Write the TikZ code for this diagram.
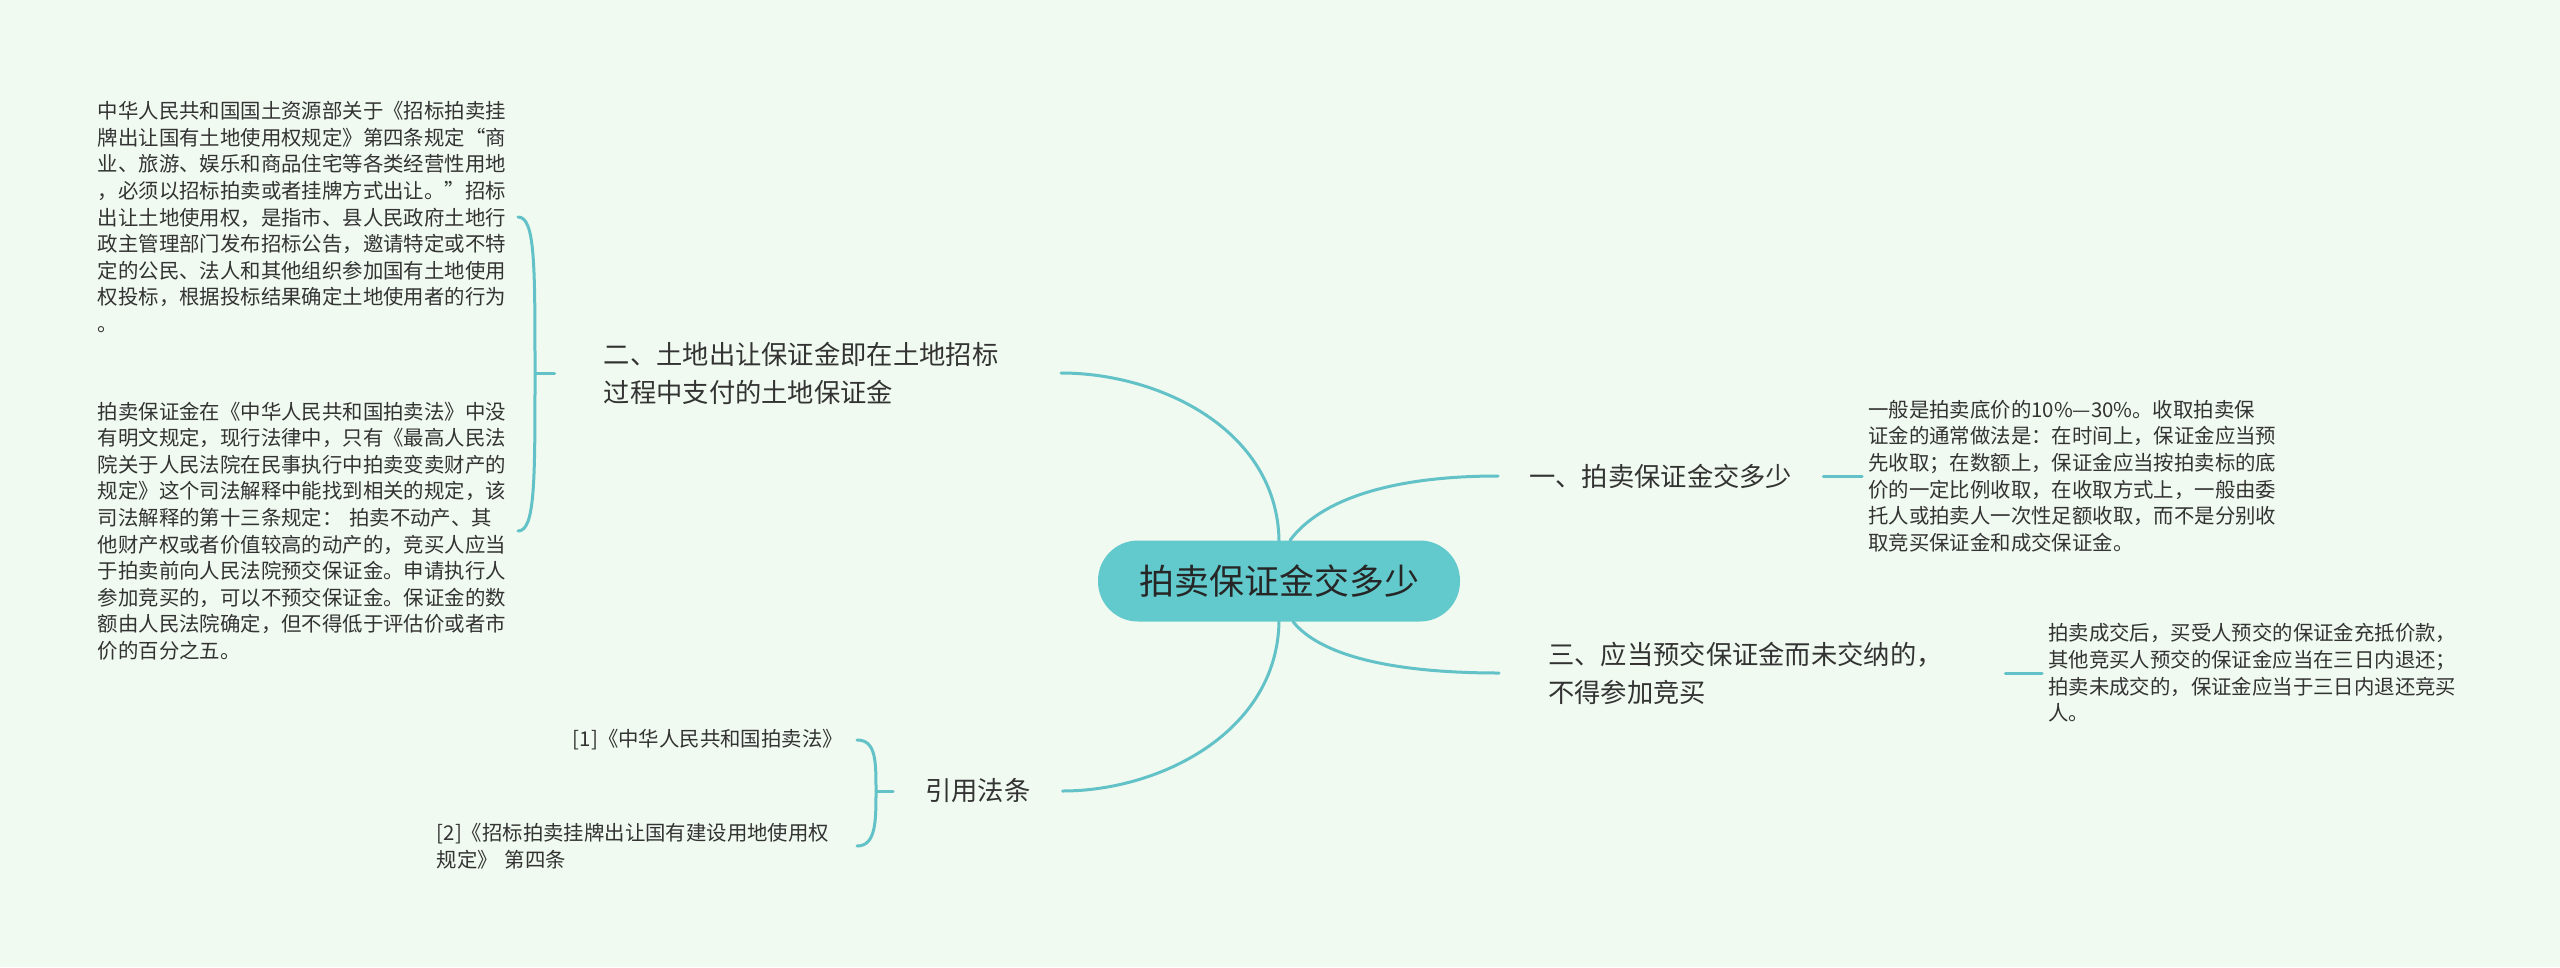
\documentclass[tikz,border=0pt]{standalone}
\usepackage{fontspec}
\setmainfont{Noto Sans CJK SC}
\usepackage{tikz}
\usetikzlibrary{positioning}
\definecolor{bgmint}{RGB}{240,250,240}
\definecolor{tealline}{RGB}{98,194,200}
\definecolor{tealfill}{RGB}{98,201,204}
\definecolor{inkgray}{RGB}{51,51,51}
\tikzset{
  hub/.style={fill=tealfill, rounded corners=40pt, minimum width=362pt,
    minimum height=81pt, inner sep=0pt, text=black!85,
    font=\fontsize{35}{42}\selectfont},
  branch/.style={inner xsep=49pt, inner ysep=4pt, text=inkgray, align=left,
    font=\fontsize{26.3}{38}\selectfont},
  leaf/.style={inner xsep=6pt, inner ysep=4pt, text=inkgray, align=left,
    font=\fontsize{20.4}{26.6}\selectfont},
  leafwide/.style={text width=414pt},
  link/.style={draw=tealline, line width=3pt, line cap=round},
}

\begin{document}
\begin{tikzpicture}[x=1pt, y=-1pt]
\path[use as bounding box, fill=bgmint] (0,0) rectangle (2560,967);
% centre topic
\node[hub] (hub) at (1279,581) {拍卖保证金交多少};
% main branches
\node[branch, text width=408pt, anchor=east] (b2) at (1061,373)
  {二、土地出让保证金即在土地招标\\过程中支付的土地保证金};
\node[branch, inner xsep=31pt, anchor=west] (b1) at (1498,476) {一、拍卖保证金交多少};
\node[branch, text width=408pt, anchor=west] (b3) at (1499,673)
  {三、应当预交保证金而未交纳的，\\不得参加竞买};
\node[branch, inner xsep=32pt, anchor=west] (b4) at (893,791) {引用法条};
% curves from the centre
\draw[link] (hub.north) .. controls (1277,430) and (1160,373) .. (b2.east);
\draw[link] ([xshift=11pt]hub.north) .. controls (1320,500) and (1390,476) .. (b1.west);
\draw[link] ([xshift=14pt]hub.south) .. controls (1320,655) and (1390,673) .. (b3.west);
\draw[link] (hub.south) .. controls (1277,732) and (1160,791) .. (b4.east);
% left leaves of branch two
\node[leaf, leafwide, anchor=east] (l1) at (518,217) {中华人民共和国国土资源部关于《招标拍卖挂\\
牌出让国有土地使用权规定》第四条规定“商\\
业、旅游、娱乐和商品住宅等各类经营性用地\\
，必须以招标拍卖或者挂牌方式出让。”招标\\
出让土地使用权，是指市、县人民政府土地行\\
政主管理部门发布招标公告，邀请特定或不特\\
定的公民、法人和其他组织参加国有土地使用\\
权投标，根据投标结果确定土地使用者的行为\\
。};
\node[leaf, leafwide, anchor=east] (l2) at (518,531) {拍卖保证金在《中华人民共和国拍卖法》中没\\
有明文规定，现行法律中，只有《最高人民法\\
院关于人民法院在民事执行中拍卖变卖财产的\\
规定》这个司法解释中能找到相关的规定，该\\
司法解释的第十三条规定： 拍卖不动产、其\\
他财产权或者价值较高的动产的，竞买人应当\\
于拍卖前向人民法院预交保证金。申请执行人\\
参加竞买的，可以不预交保证金。保证金的数\\
额由人民法院确定，但不得低于评估价或者市\\
价的百分之五。};
\coordinate (k2) at (535,373);
\draw[link] (l1.east) .. controls +(17,0) and +(0,-110) .. (k2)
  .. controls +(0,110) and +(17,0) .. (l2.east);
\draw[link] (k2) -- (b2.west);
% cited laws
\node[leaf, inner xsep=14pt, anchor=east] (c1) at (857,740) {[1]《中华人民共和国拍卖法》};
\node[leaf, leafwide, anchor=east] (c2) at (857,846)
  {[2]《招标拍卖挂牌出让国有建设用地使用权\\规定》 第四条};
\coordinate (k4) at (876,791);
\draw[link] (c1.east) .. controls +(19,0) and +(0,-30) .. (k4)
  .. controls +(0,30) and +(19,0) .. (c2.east);
\draw[link] (k4) -- (b4.west);
% right leaves
\node[leaf, leafwide, anchor=west] (r1) at (1862,476) {一般是拍卖底价的10\%—30\%。收取拍卖保\\
证金的通常做法是：在时间上，保证金应当预\\
先收取；在数额上，保证金应当按拍卖标的底\\
价的一定比例收取，在收取方式上，一般由委\\
托人或拍卖人一次性足额收取，而不是分别收\\
取竞买保证金和成交保证金。};
\draw[link] (b1.east) -- (r1.west);
\node[leaf, leafwide, anchor=west] (r3) at (2042,673) {拍卖成交后，买受人预交的保证金充抵价款，\\
其他竞买人预交的保证金应当在三日内退还；\\
拍卖未成交的，保证金应当于三日内退还竞买\\
人。};
\draw[link] (b3.east) -- (r3.west);
\end{tikzpicture}
\end{document}
